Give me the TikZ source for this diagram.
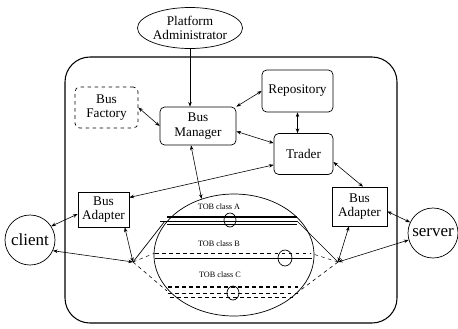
\documentclass[tikz,border=0pt]{standalone}
\usepackage{fontspec}
\setmainfont{Liberation Serif}
\usetikzlibrary{shapes.geometric,arrows.meta}

\begin{document}
\begin{tikzpicture}[x=0.03cm,y=-0.03cm,
  box/.style={draw, rectangle, rounded corners=4pt, align=center, inner sep=0pt, line width=0.6pt, font=\fontsize{11.3}{12.5}\selectfont},
  port/.style={draw, circle, inner sep=0pt, minimum size=1.5cm, line width=0.6pt, font=\fontsize{14.5}{16}\selectfont},
  tob/.style={font=\fontsize{7}{8}\selectfont},
  conn/.style={draw, ellipse, inner sep=0pt, line width=0.6pt},
  link/.style={{Stealth[length=4pt,width=3pt]}-{Stealth[length=4pt,width=3pt]}, line width=0.5pt},
  push/.style={-{Stealth[length=4pt,width=3pt]}, line width=0.5pt}]
\useasboundingbox (0,0) rectangle (458,328);

% frame
\draw[line width=0.9pt, rounded corners=0.75cm] (65,57) rectangle (397,323);

\node[draw, ellipse, inner sep=0pt, line width=0.6pt, minimum width=3.15cm, minimum height=1.23cm, align=center, font=\fontsize{11.3}{12.5}\selectfont](PA) at (190,28) {Platform\\Administrator};
\node[box, dashed, minimum width=1.89cm, minimum height=1.23cm](BF) at (106.5,107.5) {Bus\\Factory};
\node[box, minimum width=2.28cm, minimum height=1.14cm](BM) at (198,126) {Bus\\Manager};
\node[box, minimum width=2.13cm, minimum height=1.26cm](RP) at (297.5,91) {Repository};
\node[box, minimum width=1.77cm, minimum height=1.23cm](TR) at (303.5,154) {Trader};
\node[box, sharp corners, minimum width=1.53cm, minimum height=1.05cm](BA1) at (103.5,209.5) {Bus\\Adapter};
\node[box, sharp corners, minimum width=1.65cm, minimum height=1.17cm](BA2) at (359.5,206.5) {Bus\\Adapter};
\node[port](CL) at (30,240) {client};
\node[port](SV) at (433,233) {server};

% bus
\node[conn, minimum width=4.8cm, minimum height=3.66cm](TOB) at (234,255) {};
\coordinate (J1) at (133,262);
\coordinate (J2) at (338,262);

\node[tob](TOB_A) at (219,207) {TOB class A};
\draw[line width=1pt] (167,217) -- (297,217);
\draw[line width=0.4pt] (160,221) -- (297,221);
\draw[line width=0.6pt] (167,224) -- (297,224);
\node[conn, minimum width=0.36cm, minimum height=0.42cm](A_o) at (230,220) {};

\node[tob](TOB_B) at (219,244) {TOB class B};
\draw[dashed, line width=0.4pt] (155,253) -- (310,253);
\draw[line width=0.8pt] (155,258) -- (312,258);
\node[conn, minimum width=0.42cm, minimum height=0.48cm](B_o) at (285,258) {};

\node[tob](TOB_C) at (220,275) {TOB class C};
\draw[dashed, line width=0.9pt] (168,287) -- (298,287);
\draw[dashed, line width=0.6pt] (168,293) -- (298,293);
\draw[dashed, line width=0.4pt] (170,297) -- (296,297);
\node[conn, minimum width=0.36cm, minimum height=0.42cm](C_o) at (233,293) {};

\draw[line width=0.6pt] (J1) -- (165,221);
\draw[dashed, line width=0.4pt] (J1) -- (155,253);
\draw[dashed, line width=0.5pt] (J1) -- (167,291);
\draw[line width=0.6pt] (J2) -- (297,221);
\draw[dashed, line width=0.4pt] (J2) -- (310,253);
\draw[dashed, line width=0.5pt] (J2) -- (298,292);

% arrows
\draw[push](PA.south) to (PA.south |- BM.north);
\draw[link](BF.east) to (BM.west);
\draw[link](BM.north east) to (RP.west);
\draw[link](RP.south) to (RP.south |- TR.north);
\draw[link](BM.-8) to (TR.160);
\draw[link](TR.200) to (BA1.25);
\draw[link](TR.-15) to (BA2.80);
\draw[link](BM.250) to (TOB.120);
\draw[link](CL.33) to (BA1.190);
\draw[link](CL.-25) to (J1);
\draw[link](BA1.-40) to (J1);
\draw[link](BA2.-10) to (SV.155);
\draw[link](BA2.-118) to (J2);
\draw[link](J2) to (SV.196);
\end{tikzpicture}
\end{document}
